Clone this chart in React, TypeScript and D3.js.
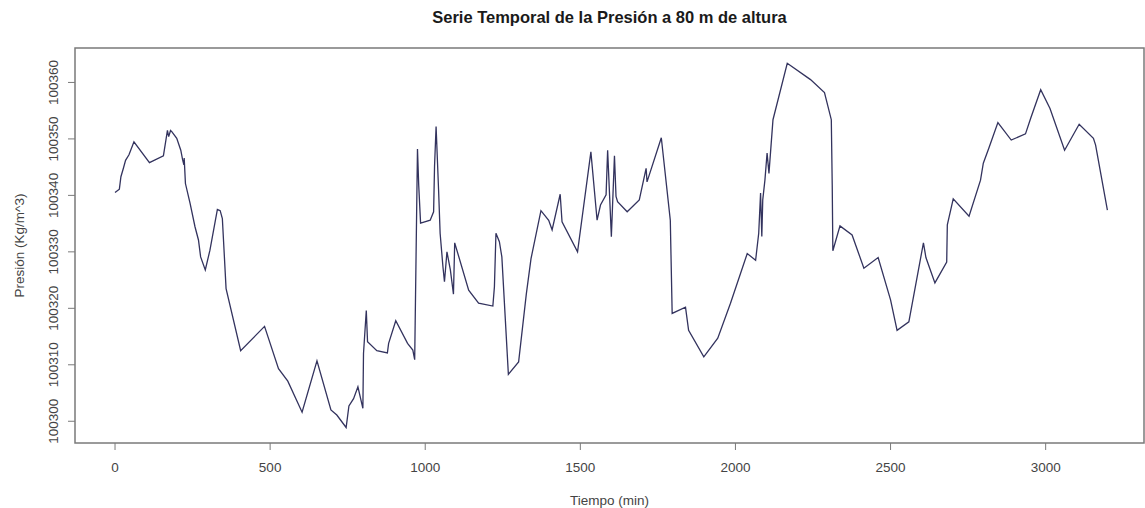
import * as d3 from 'd3';

const tiempo = [
  0, 14, 19, 27, 34, 45, 61, 111, 156, 169, 173, 179, 183, 199, 212, 218, 222, 223, 227, 242,
  258, 269, 276, 291, 306, 330, 339, 346, 352, 358, 405, 482, 527, 557, 603, 651, 696, 715, 745, 754,
  769, 783, 799, 801, 810, 814, 844, 878, 882, 905, 943, 960, 966, 975, 979, 985, 1016, 1027, 1030, 1035,
  1043, 1048, 1057, 1062, 1070, 1081, 1091, 1095, 1140, 1172, 1218, 1223, 1228, 1239, 1247, 1268, 1301, 1326, 1341, 1373,
  1398, 1409, 1435, 1441, 1491, 1534, 1554, 1565, 1583, 1588, 1600, 1610, 1615, 1620, 1651, 1690, 1712, 1715, 1761, 1790,
  1796, 1839, 1849, 1898, 1943, 1984, 2038, 2065, 2075, 2081, 2085, 2088, 2095, 2102, 2108, 2121, 2167, 2242, 2287, 2309,
  2312, 2314, 2337, 2376, 2414, 2460, 2500, 2521, 2559, 2606, 2614, 2643, 2681, 2683, 2702, 2753, 2790, 2799, 2817, 2846,
  2889, 2935, 2952, 2984, 3014, 3061, 3108, 3154, 3161, 3199,
];

const presion = [
  100340.5, 100341.1, 100343.3, 100344.8, 100346.2, 100347.2, 100349.5, 100345.8, 100347.0, 100351.5,
  100350.4, 100351.5, 100351.3, 100350.1, 100348.0, 100346.3, 100345.4, 100346.6, 100342.1, 100338.6,
  100334.4, 100332.1, 100329.1, 100326.8, 100330.3, 100337.5, 100337.3, 100335.9, 100329.7, 100323.5,
  100312.5, 100316.8, 100309.3, 100307.1, 100301.6, 100310.7, 100302.0, 100301.1, 100298.9, 100302.7,
  100304.0, 100306.1, 100302.3, 100312.0, 100319.6, 100314.1, 100312.5, 100312.1, 100313.8, 100317.8,
  100313.8, 100312.6, 100310.9, 100348.2, 100341.8, 100335.1, 100335.6, 100337.1, 100345.1, 100352.2,
  100341.0, 100333.3, 100327.4, 100324.7, 100330.0, 100326.8, 100322.5, 100331.6, 100323.2, 100320.9,
  100320.4, 100323.8, 100333.3, 100331.8, 100329.1, 100308.3, 100310.5, 100322.6, 100328.8, 100337.3,
  100335.6, 100333.9, 100340.2, 100335.3, 100330.0, 100347.7, 100335.6, 100338.3, 100340.1, 100348.0,
  100332.7, 100347.0, 100339.8, 100338.9, 100337.1, 100339.2, 100344.8, 100342.4, 100350.2, 100335.6,
  100319.1, 100320.2, 100316.1, 100311.4, 100314.7, 100320.9, 100329.7, 100328.5, 100333.3, 100340.4,
  100332.7, 100339.2, 100342.7, 100347.5, 100343.9, 100353.4, 100363.4, 100360.5, 100358.2, 100353.4,
  100341.8, 100330.2, 100334.6, 100333.0, 100327.1, 100329.0, 100321.5, 100316.1, 100317.6, 100331.6,
  100329.0, 100324.5, 100328.2, 100334.8, 100339.4, 100336.3, 100342.7, 100345.7, 100348.4, 100352.9,
  100349.8, 100350.9, 100353.7, 100358.7, 100355.4, 100348.0, 100352.6, 100350.1, 100348.9, 100337.4,
];

const xTicks = [0, 500, 1000, 1500, 2000, 2500, 3000];
const yTicks = [100300, 100310, 100320, 100330, 100340, 100350, 100360];

const W = 1145;
const H = 508;
const left = 75;
const right = 1144;
const top = 48;
const bottom = 443;

const axisColor = '#7a7a7a';
const textColor = '#444';
const font = '"Liberation Sans", Arial, sans-serif';

export default function App() {
  const x = d3.scaleLinear().domain([-129, 3317]).range([left, right]);
  const y = d3.scaleLinear().domain([100296.15, 100366.1]).range([bottom, top]);

  const pts = tiempo.map((t, i) => [t, presion[i]] as [number, number]);
  const line = d3
    .line<[number, number]>()
    .x(d => x(d[0]))
    .y(d => y(d[1]));

  return (
    <svg
      width={W}
      height={H}
      style={{ position: 'absolute', left: 0, top: 0, background: '#fff' }}
      fontFamily={font}
    >
      <text
        x={(left + right) / 2}
        y={23}
        textAnchor="middle"
        fontWeight="bold"
        fontSize={16.5}
        fill="#1a1a1a"
      >
        Serie Temporal de la Presión a 80 m de altura
      </text>

      <path d={line(pts) ?? ''} fill="none" stroke="#33335e" strokeWidth={1.3} />

      <rect
        x={left}
        y={top}
        width={right - left}
        height={bottom - top}
        fill="none"
        stroke={axisColor}
        strokeWidth={1.5}
      />

      {/* x axis */}
      {xTicks.map(t => (
        <g key={t}>
          <line x1={x(t)} x2={x(t)} y1={bottom} y2={bottom + 7} stroke={axisColor} strokeWidth={1} />
          <text x={x(t)} y={472} textAnchor="middle" fontSize={13.5} fill={textColor}>
            {t}
          </text>
        </g>
      ))}
      <text x={(left + right) / 2} y={505} textAnchor="middle" fontSize={13.5} fill={textColor}>
        Tiempo (min)
      </text>

      {/* y axis */}
      {yTicks.map(v => (
        <g key={v}>
          <line x1={left - 7} x2={left} y1={y(v)} y2={y(v)} stroke={axisColor} strokeWidth={1} />
          <text
            transform={`translate(58,${y(v)}) rotate(-90)`}
            textAnchor="middle"
            fontSize={13.5}
            fill={textColor}
          >
            {v}
          </text>
        </g>
      ))}
      <text
        transform={`translate(24,${(top + bottom) / 2}) rotate(-90)`}
        textAnchor="middle"
        fontSize={13.5}
        fill={textColor}
      >
        Presión (Kg/m^3)
      </text>
    </svg>
  );
}
